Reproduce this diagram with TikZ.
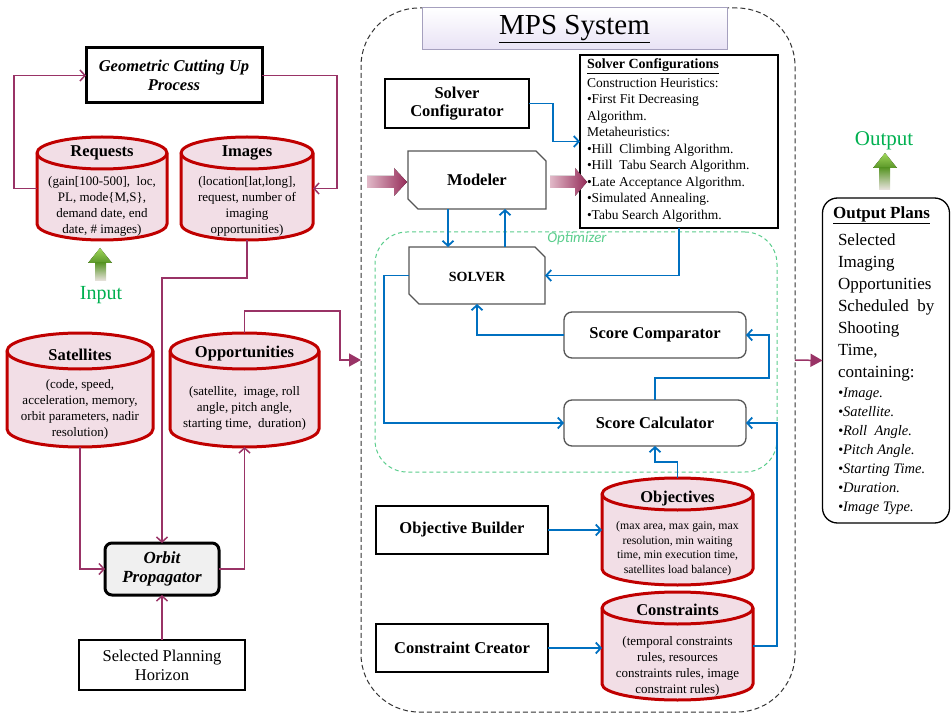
\documentclass[tikz,border=0pt]{standalone}
\usepackage{fontspec}
\setmainfont{Liberation Serif}
\newfontfamily\carlfont{Carlito}
\usetikzlibrary{arrows.meta,calc}
\definecolor{maroonc}{RGB}{153,51,102}
\definecolor{bluec}{RGB}{0,112,192}
\definecolor{cylred}{RGB}{192,0,0}
\definecolor{cylpink}{RGB}{242,222,230}
\definecolor{greent}{RGB}{0,176,80}
\definecolor{optgreen}{RGB}{90,205,140}
\definecolor{shgray}{RGB}{85,85,85}
\definecolor{lav}{RGB}{232,226,245}
\definecolor{lavb}{RGB}{165,160,190}
\definecolor{orbfill}{RGB}{240,240,240}
\definecolor{pinkl}{RGB}{225,185,200}
\definecolor{pinkd}{RGB}{150,45,90}
\definecolor{grl}{RGB}{160,215,90}
\definecolor{grd}{RGB}{90,150,40}
\definecolor{grw}{RGB}{235,228,225}

\newcommand\cylinderdraw[2]{%
 \path[fill=cylpink, draw=cylred, line width=3pt, line join=round]
  let \p1=(#1.north west), \p2=(#1.south east), \n1={(\x2-\x1)/2} in
  (\x1,\y1-#2) -- (\x1,\y2+#2) arc[start angle=180,end angle=360,x radius=\n1,y radius=#2]
  -- (\x2,\y1-#2) arc[start angle=0,end angle=180,x radius=\n1,y radius=#2] -- cycle;
 \path[draw=cylred, line width=3pt]
  let \p1=(#1.north west), \p2=(#1.south east), \n1={(\x2-\x1)/2} in
  (\x1,\y1-#2) arc[start angle=180,end angle=360,x radius=\n1,y radius=#2];
}
\newcommand\chamfdraw[2]{%
 \draw[draw=shgray, line width=1.3pt, fill=white]
  (#1.north west) -- ($(#1.north east)+(-#2,0)$) -- ($(#1.north east)+(0,-#2)$)
  -- (#1.south east) -- ($(#1.south west)+(#2,0)$) -- ($(#1.south west)+(0,#2)$) -- cycle;
}

\begin{document}
\begin{tikzpicture}[x=1pt,y=1pt, every node/.style={outer sep=0pt},
 ghost/.style={draw=none, inner sep=0pt},
 plainbox/.style={draw=black, line width=1.3pt, fill=white, inner sep=0pt, align=center},
 heavybox/.style={draw=black, line width=3pt, fill=white, inner sep=0pt, align=center},
 roundbox/.style={draw=shgray, line width=1.3pt, fill=white, rounded corners=8pt, inner sep=0pt, align=center},
 hdr/.style={font=\fontsize{16.5}{18.5}\selectfont\bfseries},
 hdrbi/.style={font=\fontsize{16.5}{19}\selectfont\bfseries\itshape},
 cyltitle/.style={font=\fontsize{16.5}{19}\selectfont\bfseries, inner sep=0pt},
 cylbody/.style={font=\fontsize{13}{16}\selectfont, align=center, inner sep=0pt},
 marr/.style={draw=maroonc, line width=1.5pt, -{Straight Barb[length=5pt,width=11pt]}},
 mfill/.style={draw=maroonc, line width=1.5pt, -{Triangle[length=12pt,width=13pt]}},
 barr/.style={draw=bluec, line width=1.8pt, -{Straight Barb[length=5pt,width=11pt]}},
]
\useasboundingbox (0,0) rectangle (951,-714);

% containers
\node[draw=black!80, line width=1pt, dash pattern=on 5pt off 3pt, rounded corners=58pt, minimum width=434, minimum height=704, inner sep=0pt] (mps) at (578,-360) {};
\node[draw=optgreen, line width=1pt, dash pattern=on 4pt off 3pt, rounded corners=32pt, minimum width=402, minimum height=240, inner sep=0pt] (opt) at (576,-352) {};
\node[text=optgreen, font=\carlfont\fontsize{15}{17}\selectfont\itshape, inner sep=0pt] (optl) at (577,-239) {Optimizer};
\node[draw=lavb, line width=1pt, top color=white, bottom color=lav, minimum width=305, minimum height=42, inner sep=0pt, font=\fontsize{29}{32}\selectfont] (ttl) at (574.5,-29) {\underline{MPS System}};

% left side
\node[heavybox, hdrbi, minimum width=176, minimum height=55] (geo) at (174,-75.5) {Geometric Cutting Up\\Process};
\node[ghost, minimum width=130, minimum height=103] (req) at (102,-188.5) {};
\node[ghost, minimum width=132, minimum height=103] (img) at (247,-188.5) {};
\node[ghost, minimum width=146, minimum height=114] (sat) at (80,-390) {};
\node[ghost, minimum width=149, minimum height=114] (opp) at (244.5,-390) {};
\cylinderdraw{req}{16pt}
\cylinderdraw{img}{16pt}
\cylinderdraw{sat}{18pt}
\cylinderdraw{opp}{18pt}
\node[cyltitle] (reqt) at (102,-153) {Requests};
\node[cylbody] (reqb) at (102,-206) {(gain[100-500],\ \ loc,\\PL, mode\{M,S\},\\demand date, end\\date, \# images)};
\node[cyltitle] (imgt) at (247,-153) {Images};
\node[cylbody] (imgb) at (247,-206) {(location[lat,long],\\request, number of\\imaging\\opportunities)};
\node[cyltitle] (satt) at (80,-355) {Satellites};
\node[cylbody] (satb) at (80,-409) {(code, speed,\\acceleration, memory,\\orbit parameters, nadir\\resolution)};
\node[cyltitle] (oppt) at (244.5,-354) {Opportunities};
\node[cylbody] (oppb) at (244.5,-408) {(satellite,\ \ image, roll\\angle, pitch angle,\\starting time,\ \ duration)};
\node[heavybox, fill=orbfill, rounded corners=7pt, font=\fontsize{17}{19}\selectfont\bfseries\itshape, minimum width=114, minimum height=52] (orb) at (162,-569) {Orbit\\Propagator};
\node[draw=black, line width=1.5pt, fill=white, inner sep=0pt, align=center, minimum width=166, minimum height=50, font=\fontsize{16.5}{19}\selectfont] (sph) at (162,-665) {Selected Planning\\Horizon};

% green input arrow and label
\fill[top color=grl, bottom color=grd] (100,-248) -- (112,-263) -- (88,-263) -- cycle;
\fill[top color=grd, bottom color=grw] (95,-263) rectangle (106,-281);
\node[text=greent, font=\fontsize{20}{22}\selectfont, inner sep=0pt] (inl) at (101,-295) {Input};

% MPS inner
\node[plainbox, hdr, minimum width=144, minimum height=49] (scfg) at (457,-103.5) {Solver\\Configurator};
\node[plainbox, minimum width=198, minimum height=173] (scfgs) at (679,-141.5) {};
\node[anchor=north west, inner sep=0pt, align=left, font=\fontsize{13.5}{16.5}\selectfont] (scfgt) at (587,-59) {{\fontsize{14}{16.5}\selectfont\bfseries\underline{Solver\ Configurations}}\\[2pt]Construction Heuristics:\\\textbullet First Fit Decreasing\\Algorithm.\\Metaheuristics:\\\textbullet Hill\ \ Climbing\ Algorithm.\\\textbullet Hill\ \ Tabu Search Algorithm.\\\textbullet Late Acceptance Algorithm.\\\textbullet Simulated Annealing.\\\textbullet Tabu Search Algorithm.};
\node[ghost, minimum width=138, minimum height=58] (mod) at (477,-180) {};
\chamfdraw{mod}{10}
\node[hdr, inner sep=0pt] (modt) at (mod.center) {Modeler};
\node[ghost, minimum width=136, minimum height=57] (solver) at (477,-275.5) {};
\chamfdraw{solver}{10}
\node[font=\fontsize{14}{16}\selectfont\bfseries, inner sep=0pt] (solvert) at ($(solver.center)+(0,-1)$) {SOLVER};
\node[roundbox, hdr, minimum width=182, minimum height=46] (scomp) at (655,-335) {Score Comparator};
\node[roundbox, hdr, minimum width=182, minimum height=46] (scalc) at (655,-423) {Score Calculator};
\node[plainbox, hdr, minimum width=172, minimum height=48] (objb) at (462,-530) {Objective Builder};
\node[plainbox, hdr, minimum width=172, minimum height=48] (conc) at (462,-648) {Constraint Creator};
\node[ghost, minimum width=151, minimum height=107] (obj) at (677.5,-531.5) {};
\node[ghost, minimum width=151, minimum height=108] (con) at (677.5,-646) {};
\cylinderdraw{obj}{16pt}
\cylinderdraw{con}{16pt}
\node[cyltitle] (objt) at (677.5,-499) {Objectives};
\node[font=\fontsize{11.8}{14.5}\selectfont, align=center, inner sep=0pt] (objbd) at (677.5,-548.5) {(max\ area, max gain,\ max\\resolution, min waiting\\time, min execution\ time,\\satellites load balance)};
\node[cyltitle] (cont) at (677.5,-610) {Constraints};
\node[cylbody] (conbd) at (677.5,-666) {(temporal\ constraints\\rules, resources\\constraints rules, image\\constraint rules)};

% output
\node[draw=black, line width=1.3pt, rounded corners=15pt, minimum width=127, minimum height=325, inner sep=0pt] (outp) at (886,-360.5) {};
\node[inner sep=0pt, font=\fontsize{17}{20}\selectfont\bfseries] (outh) at (881.5,-215) {\underline{Output Plans}};
\node[anchor=north west, inner sep=0pt, align=left, font=\fontsize{17}{22}\selectfont] (outb) at (838,-234) {Selected\\Imaging\\Opportunities\\Scheduled\ \ by\\Shooting\\Time,\\containing:};
\node[anchor=north west, inner sep=0pt, align=left, font=\fontsize{14.5}{19}\selectfont\itshape] (outl) at (838,-388) {\textbullet Image.\\\textbullet Satellite.\\\textbullet Roll\ \ Angle.\\\textbullet Pitch Angle.\\\textbullet Starting Time.\\\textbullet Duration.\\\textbullet Image Type.};
\fill[top color=grl, bottom color=grd] (885,-153) -- (897,-168) -- (873,-168) -- cycle;
\fill[top color=grd, bottom color=grw] (879,-168) rectangle (890,-190);
\node[text=greent, font=\fontsize{21}{23}\selectfont, inner sep=0pt] (outlab) at (884,-141) {Output};

% maroon connectors
\draw[marr] (req.west) -- ++(-23,0) |- (geo.west);
\coordinate (g1) at (337,-188.5);
\draw[marr] (geo.east) -| (g1) -- (img.east);
\draw[marr] (img.south) -- ++(0,-38) -| (orb.north);
\draw[marr] (sat.south) |- (orb.west);
\draw[marr] (orb.east) -| (opp.south);
\draw[marr] (sph.north) -- (orb.south);
\coordinate (k1) at (340,-311);
\draw[mfill] (opp.north) |- (k1) |- (mps.west);
\draw[mfill] (mps.east) -- (outp.west);

% blue connectors
\coordinate (b1) at (553,-141.5);
\draw[barr] (scfg.east) -| (b1) -- (scfgs.west);
\draw[barr] ($(mod.south)+(-29,0)$) -- ($(solver.north)+(-29,0)$);
\draw[barr] ($(solver.north)+(28,0)$) -- ($(mod.south)+(28,0)$);
\draw[barr] (scfgs.south) |- (solver.east);
\draw[barr] (scomp.west) -| (solver.south);
\draw[barr] (solver.west) -- ++(-25,0) |- (scalc.west);
\coordinate (c2) at (769,-378);
\draw[barr] (scalc.north) |- (c2) |- (scomp.east);
\coordinate (c4) at (655,-462);
\draw[barr] (obj.north) |- (c4) -- (scalc.south);
\coordinate (c3) at (777,-500);
\draw[barr] (con.east) -| (c3) |- (scalc.east);
\draw[barr] (objb.east) -- (objb.east -| obj.west);
\draw[barr] (conc.east) -- (conc.east -| con.west);

% block arrows into and out of Modeler
\fill[left color=pinkl, right color=pinkd] (367,-176) -- (394,-176) -- (394,-168) -- (407,-182) -- (394,-196) -- (394,-188) -- (367,-188) -- cycle;
\fill[left color=pinkl, right color=pinkd] (550,-176) -- (575,-176) -- (575,-168) -- (587,-182) -- (575,-196) -- (575,-188) -- (550,-188) -- cycle;
\end{tikzpicture}
\end{document}
